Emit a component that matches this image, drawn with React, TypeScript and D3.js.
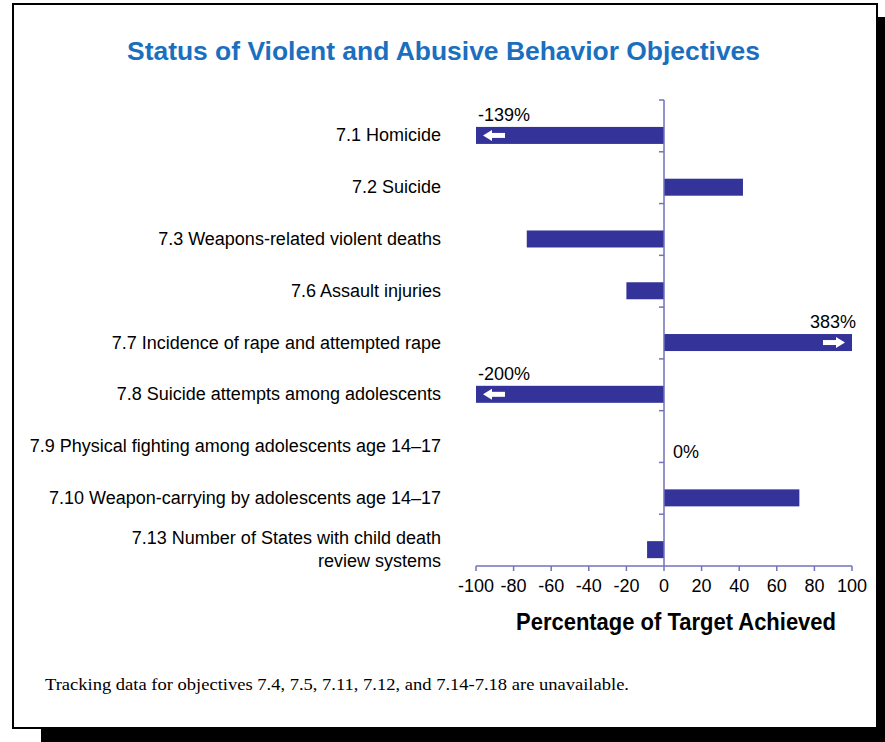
import React from "react";
import * as d3 from "d3";

const categories = [
  "7.1 Homicide",
  "7.2 Suicide",
  "7.3 Weapons-related violent deaths",
  "7.6 Assault injuries",
  "7.7 Incidence of rape and attempted rape",
  "7.8 Suicide attempts among adolescents",
  "7.9 Physical fighting among adolescents age 14–17",
  "7.10 Weapon-carrying by adolescents age 14–17",
  "7.13 Number of States with child death|review systems",
];
const values = [-139, 42, -73, -20, 383, -200, 0, 72, -9];
const valueLabels = ["-139%", "", "", "", "383%", "-200%", "0%", "", ""];
const xTicks = [-100, -80, -60, -40, -20, 0, 20, 40, 60, 80, 100];

const W = 885;
const H = 742;
const NARROW = "'Liberation Sans Narrow', 'Arial Narrow', 'Liberation Sans', sans-serif";

export default function App() {
  const x = d3.scaleLinear().domain([-100, 100]).range([476, 852]);
  const y = d3.scaleBand<string>().domain(categories).range([100, 566]).padding(0);
  const bw = y.bandwidth();
  const barTop = (c: string) => (y(c) as number) + bw * 0.52;
  const barH = 17;
  const clamp = (v: number) => Math.max(-100, Math.min(100, v));
  const barColor = "#333399";
  const axisColor = "#7272bd";

  return (
    <svg width={W} height={H} style={{ position: "absolute", left: 0, top: 0 }}>
      {/* shadow */}
      <rect x={41} y={17} width={W} height={H} fill="#000" />
      {/* frame */}
      <rect x={13} y={4} width={864} height={724} fill="#fff" stroke="#000" strokeWidth={2} />
      <text x={443.5} y={60} textAnchor="middle" fill="#1a6fbe" fontFamily="'Liberation Sans', Arial, sans-serif" fontWeight="bold" fontSize={26} textLength={633} lengthAdjust="spacingAndGlyphs">
        Status of Violent and Abusive Behavior Objectives
      </text>

      {/* bars */}
      {categories.map((c, i) => {
        const v = clamp(values[i]);
        const x0 = x(Math.min(0, v));
        const x1 = x(Math.max(0, v));
        const top = barTop(c);
        const clipped = values[i] !== v;
        const cy = top + barH / 2;
        let arrow = null;
        if (clipped) {
          const dir = values[i] < 0 ? -1 : 1;
          const tip = dir < 0 ? x0 + 7 : x1 - 7;
          const tail = tip - dir * 22;
          const head = tip - dir * 9;
          arrow = (
            <g fill="#fff">
              <rect x={Math.min(tail, head)} y={cy - 2.5} width={Math.abs(head - tail)} height={5} />
              <path d={`M${tip},${cy} L${head},${cy - 5.5} L${head},${cy + 5.5} Z`} />
            </g>
          );
        }
        return (
          <g key={c}>
            <rect x={x0} y={top} width={x1 - x0} height={barH} fill={barColor} />
            {arrow}
          </g>
        );
      })}

      {/* value labels */}
      {categories.map((c, i) => {
        const lab = valueLabels[i];
        if (!lab) return null;
        const v = values[i];
        const top = barTop(c);
        if (v < 0) {
          return (
            <text key={c} x={x(-100) + 2} y={top - 6} fontFamily={NARROW} fontSize={18} fill="#000">{lab}</text>
          );
        } else if (v > 100) {
          return (
            <text key={c} x={x(100) + 4} y={top - 6} textAnchor="end" fontFamily={NARROW} fontSize={18} fill="#000">{lab}</text>
          );
        }
        return (
          <text key={c} x={x(0) + 9} y={top + barH + 3} fontFamily={NARROW} fontSize={18} fill="#000">{lab}</text>
        );
      })}

      {/* y axis */}
      <line x1={x(0)} x2={x(0)} y1={100} y2={566} stroke={axisColor} strokeWidth={1.5} />
      {categories.map((c) => (
        <line key={c} x1={x(0) - 5} x2={x(0)} y1={y(c) as number} y2={y(c) as number} stroke={axisColor} strokeWidth={1.5} />
      ))}

      {/* x axis */}
      <line x1={x(-100)} x2={x(100)} y1={566} y2={566} stroke={axisColor} strokeWidth={1.5} />
      {xTicks.map((t) => (
        <g key={t}>
          <line x1={x(t)} x2={x(t)} y1={566} y2={571} stroke={axisColor} strokeWidth={1.5} />
          <text x={x(t)} y={592} textAnchor="middle" fontFamily={NARROW} fontSize={18} fill="#000">{t}</text>
        </g>
      ))}
      <text x={676} y={630} textAnchor="middle" fontFamily={NARROW} fontWeight="bold" fontSize={24} fill="#000" textLength={320} lengthAdjust="spacingAndGlyphs">
        Percentage of Target Achieved
      </text>

      {/* category labels */}
      {categories.map((c) => {
        const lines = c.split("|");
        const cy = barTop(c) + barH / 2;
        const lh = 23;
        const start = cy - ((lines.length - 1) * lh) / 2;
        return (
          <text key={c} x={441} textAnchor="end" fontFamily={NARROW} fontSize={18} fill="#000">
            {lines.map((l, k) => (
              <tspan key={k} x={441} y={start + k * lh + 6}>{l}</tspan>
            ))}
          </text>
        );
      })}

      <text x={45} y={690} fontFamily="'Liberation Serif', 'Times New Roman', serif" fontSize={17} fill="#000" textLength={584} lengthAdjust="spacingAndGlyphs">
        Tracking data for objectives 7.4, 7.5, 7.11, 7.12, and 7.14-7.18 are unavailable.
      </text>
    </svg>
  );
}
